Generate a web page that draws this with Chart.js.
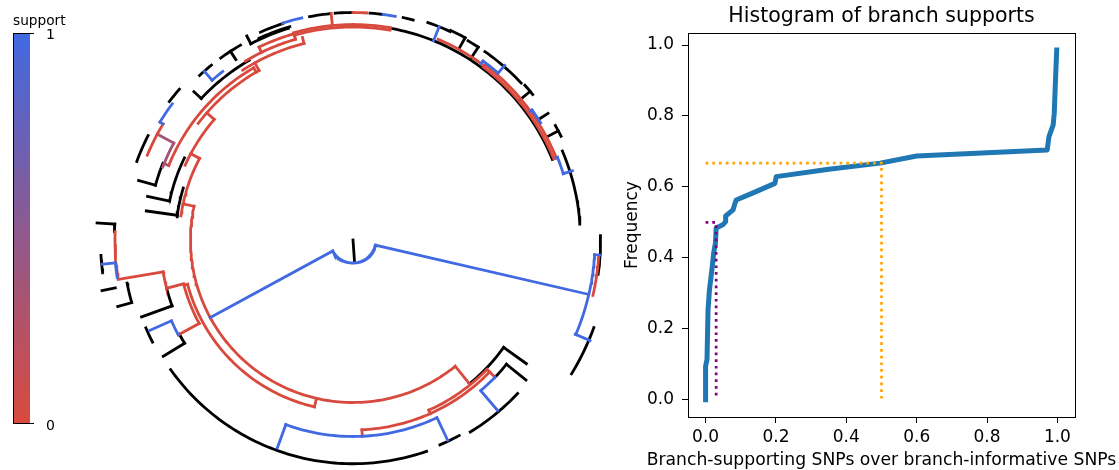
<!DOCTYPE html>
<html>
<head>
<meta charset="utf-8">
<script src="https://cdn.jsdelivr.net/npm/chart.js@4.4.1/dist/chart.umd.min.js"></script>
<style>
body { margin: 0; background: #fff; width: 1119px; height: 470px; overflow: hidden; position: relative; }
#treeBox { position: absolute; left: 0; top: 0; width: 620px; height: 470px; }
#cdfBox { position: absolute; left: 620px; top: 0; width: 499px; height: 470px; }
</style>
</head>
<body>
<div id="treeBox"><canvas id="treeChart" width="620" height="470"></canvas></div>
<div id="cdfBox"><canvas id="cdfChart" width="499" height="470"></canvas></div>
<script>
// tree arcs: [radius, start angle, end angle, support]
// angles in degrees, counter-clockwise from 3 o'clock; support -1 = no value (black)
const treeArcs = [
	[0.092, -151.5, -13, 1],
	// right clade
	[0.968, -23, -3.5, 1],
	[0.985, -4, -13, 0],
	[1.025, -31.5, -20, -1],
	[0.99, 1, -8, -1],
	[0.91, 23, 4, -1],
	// upper right
	[0.86, 80, 22, -1],
	[0.872, 67, 53, 0],
	[0.866, 53, 22, 0],
	[0.877, 53, 22, 0],
	[0.92, 71, 65, -1],
	[0.925, 65, 61, -1],
	[0.92, 60, 57, -1],
	[0.92, 55, 43, -1],
	[0.885, 54, 49, 1],
	[0.925, 42, 39, -1],
	[0.885, 36, 32, 1],
	[0.93, 29.5, 26.5, -1],
	[0.882, 22, 17.5, 1],
	// top
	[0.852, 80, 106, 0],
	[0.862, 80, 106, 0],
	[0.858, 106, 116, 0],
	[0.89, 115, 106.5, -1],
	[0.91, 114, 108, -1],
	[0.912, 108, 103, 1],
	[0.91, 101, 95.8, -1],
	[0.91, 94.5, 90.2, -1],
	[0.91, 90, 86.5, 0],
	[0.91, 85.7, 82.7, -1],
	[0.91, 82.4, 79.3, 1],
	[0.912, 77.3, 74.7, -1],
	// backbone ladder
	[0.65, 309, 168, 0],
	[0.695, 172, 152, 0],
	[0.735, 156, 139, 0],
	[0.775, 143, 119, 0],
	[0.81, 123, 104, 0],
	[0.835, 121, 106, 0],
	[0.795, 120, 158, 0],
	[0.815, 159, 151.6, 0.35],
	// upper left
	[0.885, 107, 117.5, -1],
	[0.9, 120, 126, -1],
	[0.852, 127.7, 131.4, 1],
	[0.9, 133, 129, -1],
	[0.83, 120, 137, -1],
	[0.905, 148.6, 143, 1],
	[0.92, 143, 139, -1],
	[0.89, 157.6, 148.6, 0],
	[0.92, 160, 153, -1],
	[0.82, 158, 164.5, -1],
	[0.75, 154, 168, -1],
	[0.71, 163, 172.5, -1],
	// left
	[0.955, 176.2, 178, -1],
	[0.952, 178, 189, 0],
	[0.955, 186, 189, 1],
	[1.01, 183.5, 187.5, -1],
	[0.92, 190.8, 195.7, -1],
	[0.77, 189.5, 194.5, 0],
	[0.77, 194.5, 200, -1],
	[0.70, 195, 208.5, 0],
	[0.795, 208.5, 204, 1],
	[0.9, 203, 207, -1],
	[0.79, 208.5, 211.5, -1],
	[0.685, 195, 257, 0],
	// bottom
	[0.895, 215.4, 289.2, -1],
	[0.786, 250, 295, 1],
	[0.89, 293, 298.5, -1],
	[0.76, 272.7, 316, 0],
	[0.745, 294, 316, 0],
	[0.74, 309, 324.5, -1],
	[0.79, 316, 310.3, 1],
	[0.79, 316, 321, -1],
	[0.9, 301.4, 317, -1]
];

// tree spokes: [angle, inner radius, outer radius, support]
const treeSpokes = [
	[-86, 0, 0.09, -1],
	[-151.5, 0.092, 0.65, 1],
	[-13, 0.092, 0.968, 1],
	[-23, 0.966, 1.03, 1],
	[-3.5, 0.968, 0.99, 1],
	[68, 0.86, 0.92, 1],
	[61, 0.875, 0.925, -1],
	[57, 0.87, 0.92, -1],
	[54, 0.872, 0.885, 1],
	[49, 0.885, 0.925, 1],
	[40, 0.875, 0.925, -1],
	[36, 0.876, 0.885, 1],
	[33, 0.885, 0.93, -1],
	[28, 0.88, 0.93, -1],
	[22, 0.876, 0.882, 1],
	[17.5, 0.882, 0.92, 1],
	[168, 0.65, 0.695, 0],
	[152, 0.695, 0.735, 0],
	[139, 0.735, 0.775, 0],
	[119, 0.775, 0.81, 0],
	[104, 0.81, 0.835, 0],
	[106, 0.835, 0.857, 0],
	[116, 0.835, 0.858, 0],
	[120, 0.775, 0.795, 0],
	[158, 0.795, 0.815, 0.35],
	[151.6, 0.815, 0.89, 0.35],
	[148.6, 0.89, 0.905, 1],
	[95.5, 0.862, 0.91, 0],
	[117.5, 0.885, 0.92, -1],
	[123, 0.86, 0.9, -1],
	[131.4, 0.852, 0.9, 1],
	[137, 0.83, 0.87, -1],
	[164.5, 0.82, 0.89, -1],
	[168, 0.75, 0.84, -1],
	[172, 0.71, 0.835, -1],
	[176.2, 0.955, 1.026, -1],
	[185.5, 0.955, 1.008, 1],
	[191.4, 0.97, 1.024, -1],
	[195.8, 0.92, 0.978, -1],
	[189.5, 0.77, 0.952, 0],
	[194.5, 0.70, 0.77, 0],
	[200, 0.77, 0.9, -1],
	[195, 0.685, 0.70, 0],
	[208.5, 0.70, 0.795, 0],
	[204, 0.795, 0.89, 1],
	[211.5, 0.79, 0.89, -1],
	[257, 0.65, 0.685, 0],
	[250, 0.786, 0.885, 1],
	[295.3, 0.786, 0.886, 1],
	[272.7, 0.76, 0.786, 0],
	[309, 0.65, 0.74, 0],
	[294, 0.745, 0.76, 0],
	[316, 0.745, 0.79, 0],
	[310.3, 0.79, 0.894, 1],
	[321, 0.79, 0.89, -1],
	[324.5, 0.74, 0.852, -1]
];

// cumulative share of branches by support ratio
const cdfX = [0, 0, 0.004, 0.007, 0.011, 0.019, 0.023, 0.028, 0.030, 0.049, 0.057, 0.057, 0.078, 0.083, 0.087, 0.135, 0.197, 0.201, 0.35, 0.496, 0.600, 0.971, 0.976, 0.988, 0.991, 0.994, 0.998];
const cdfY = [0, 0.094, 0.113, 0.254, 0.31, 0.375, 0.414, 0.442, 0.484, 0.493, 0.502, 0.518, 0.535, 0.552, 0.563, 0.583, 0.610, 0.629, 0.650, 0.667, 0.687, 0.704, 0.742, 0.775, 0.808, 0.887, 0.986];

// reference lines: half-support cut and the median branch
const halfX = 0.5;
const halfY = 0.667;
const medianX = 0.03;
const medianY = 0.5;

const xTicks = [0.0, 0.2, 0.4, 0.6, 0.8, 1.0];
const yTicks = [0.0, 0.2, 0.4, 0.6, 0.8, 1.0];

const chartTitle = 'Histogram of branch supports';
const xTitle = 'Branch-supporting SNPs over branch-informative SNPs';
const yTitle = 'Frequency';

const lowColor = [217, 74, 62];
const highColor = [65, 105, 225];

function supportColor(s){
	if(s < 0){
		return '#000000';
	}
	var c = lowColor.map(function(v, i){ return Math.round(v + (highColor[i] - v) * s); });
	return 'rgb(' + c.join(',') + ')';
}

function polarPoint(r, a){
	var t = a * Math.PI / 180;
	return {x: r * Math.cos(t), y: r * Math.sin(t)};
}

function treeLine(points, s){
	return {
		data: points,
		showLine: true,
		pointRadius: 0,
		borderWidth: 2.8,
		borderColor: supportColor(s),
		borderCapStyle: 'square',
		borderJoinStyle: 'miter',
		tension: 0,
		order: s < 0 ? 3 : (s > 0.5 ? 1 : 2)
	};
}

var treeSets = [];
treeArcs.forEach(function(arc){
	var r = arc[0], a0 = arc[1], a1 = arc[2];
	var n = Math.max(2, Math.ceil(Math.abs(a1 - a0))) + 1;
	var pts = [];
	for(var i = 0; i < n; i++){
		pts.push(polarPoint(r, a0 + (a1 - a0) * i / (n - 1)));
	}
	treeSets.push(treeLine(pts, arc[3]));
});
treeSpokes.forEach(function(sp){
	treeSets.push(treeLine([polarPoint(sp[1], sp[0]), polarPoint(sp[2], sp[0])], sp[3]));
});

//컬러바
const colorbarPlugin = {
	id: 'colorbar',
	afterDraw: function(chart){
		var ctx = chart.ctx;
		ctx.save();
		var g = ctx.createLinearGradient(0, 34, 0, 423);
		g.addColorStop(0, supportColor(1));
		g.addColorStop(1, supportColor(0));
		ctx.fillStyle = g;
		ctx.fillRect(14, 34, 16, 389);
		ctx.strokeStyle = '#000';
		ctx.lineWidth = 1;
		ctx.beginPath();
		ctx.moveTo(13.5, 33.5); ctx.lineTo(13.5, 423.5);
		ctx.moveTo(13, 33.5); ctx.lineTo(34, 33.5);
		ctx.moveTo(13, 423.5); ctx.lineTo(34, 423.5);
		ctx.stroke();
		ctx.fillStyle = '#000';
		ctx.textBaseline = 'middle';
		ctx.textAlign = 'left';
		ctx.font = '13.7px "DejaVu Sans"';
		ctx.fillText('support', 13, 21);
		ctx.font = '14px "DejaVu Sans"';
		ctx.fillText('1', 46, 35);
		ctx.fillText('0', 46, 426);
		ctx.restore();
	}
};

new Chart(document.getElementById('treeChart'), {
	type: 'scatter',
	data: { datasets: treeSets },
	options: {
		responsive: false,
		animation: false,
		events: [],
		layout: { padding: 0 },
		plugins: { legend: { display: false }, tooltip: { enabled: false } },
		scales: {
			x: { type: 'linear', min: -1.412, max: 1.068, display: false },
			y: { type: 'linear', min: -0.92, max: 0.96, display: false }
		}
	},
	plugins: [colorbarPlugin]
});

//축 테두리, 제목
const framePlugin = {
	id: 'frame',
	afterDraw: function(chart){
		var a = chart.chartArea, ctx = chart.ctx;
		var cx = (a.left + a.right) / 2;
		ctx.save();
		ctx.strokeStyle = '#000';
		ctx.lineWidth = 1;
		ctx.strokeRect(Math.round(a.left) + 0.5, Math.round(a.top) + 0.5, Math.round(a.right - a.left), Math.round(a.bottom - a.top));
		ctx.fillStyle = '#000';
		ctx.textAlign = 'center';
		ctx.textBaseline = 'middle';
		ctx.font = '20.5px "DejaVu Sans"';
		ctx.fillText(chartTitle, cx, 17);
		ctx.font = '17.2px "DejaVu Sans"';
		ctx.fillText(xTitle, cx, 461);
		ctx.restore();
	}
};

var cdfPoints = cdfX.map(function(x, i){ return {x: x, y: cdfY[i]}; });
var tickFont = { family: 'DejaVu Sans', size: 17 };

new Chart(document.getElementById('cdfChart'), {
	type: 'scatter',
	data: {
		datasets: [
			{
				data: [{x: 0, y: halfY}, {x: halfX, y: halfY}, {x: halfX, y: 0}],
				showLine: true, pointRadius: 0, borderColor: '#ffa500', borderWidth: 2.7,
				borderDash: [2.7, 4], borderCapStyle: 'butt', order: 0
			},
			{
				data: [{x: 0, y: medianY}, {x: medianX, y: medianY}, {x: medianX, y: 0.01}],
				showLine: true, pointRadius: 0, borderColor: '#800080', borderWidth: 2.7,
				borderDash: [2.7, 4], borderCapStyle: 'butt', order: 0
			},
			{
				data: cdfPoints,
				showLine: true, pointRadius: 0, borderColor: '#1f77b4', borderWidth: 5,
				borderCapStyle: 'square', borderJoinStyle: 'round', tension: 0, order: 1
			}
		]
	},
	options: {
		responsive: false,
		animation: false,
		events: [],
		layout: { padding: { left: 0, right: 44, top: 33, bottom: 0 } },
		plugins: {
			legend: { display: false },
			tooltip: { enabled: false },
			title: { display: false }
		},
		scales: {
			x: {
				type: 'linear', min: -0.05, max: 1.05,
				afterBuildTicks: function(s){ s.ticks = xTicks.map(function(v){ return {value: v}; }); },
				afterFit: function(s){ s.height = 53; },
				ticks: { font: tickFont, color: '#000', padding: 4, maxRotation: 0, autoSkip: false,
					callback: function(v){ return Number(v).toFixed(1); } },
				grid: { drawOnChartArea: false, drawTicks: true, tickLength: 6, tickColor: '#000', tickWidth: 1 },
				border: { display: true, color: '#000', width: 1 }
			},
			y: {
				type: 'linear', min: -0.049, max: 1.034,
				afterBuildTicks: function(s){ s.ticks = yTicks.map(function(v){ return {value: v}; }); },
				afterFit: function(s){ s.width = 68; },
				ticks: { font: tickFont, color: '#000', padding: 8, autoSkip: false,
					callback: function(v){ return Number(v).toFixed(1); } },
				grid: { drawOnChartArea: false, drawTicks: true, tickLength: 6, tickColor: '#000', tickWidth: 1 },
				border: { display: true, color: '#000', width: 1 },
				title: { display: true, text: yTitle, color: '#000',
					font: { family: 'DejaVu Sans', size: 17, lineHeight: 1.2 }, padding: { top: 2, bottom: 0 } }
			}
		}
	},
	plugins: [framePlugin]
});
</script>
</body>
</html>
